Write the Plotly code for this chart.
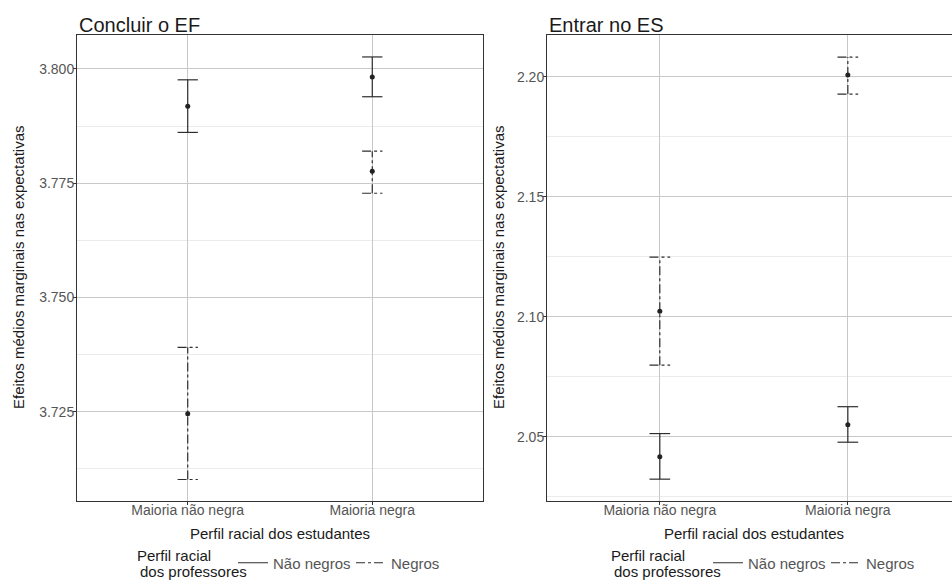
import plotly.graph_objects as go

# ---------------- data ----------------
categories = ["Maioria não negra", "Maioria negra"]
cat_pos = [1, 2]

# Panel 1: Concluir o EF
ef_nao_negros_est = [3.7918, 3.7982]
ef_nao_negros_lo = [3.7861, 3.7939]
ef_nao_negros_hi = [3.7976, 3.8026]
ef_negros_est = [3.7246, 3.7776]
ef_negros_lo = [3.7102, 3.7728]
ef_negros_hi = [3.7391, 3.7820]

# Panel 2: Entrar no ES
es_nao_negros_est = [2.0417, 2.0551]
es_nao_negros_lo = [2.0324, 2.0478]
es_nao_negros_hi = [2.0514, 2.0626]
es_negros_est = [2.1024, 2.2008]
es_negros_lo = [2.0799, 2.1929]
es_negros_hi = [2.1249, 2.2083]

ef_ticks = [3.725, 3.750, 3.775, 3.800]
es_ticks = [2.05, 2.10, 2.15, 2.20]

series_names = ["Não negros", "Negros"]
series_dash = ["solid", "dashdot"]

# ---------------- helpers ----------------
CAP = 0.055
LINE_COL = "#2e2e2e"
FONT = "Liberation Sans, Arial, sans-serif"


def errorbar_path(xs, lo, hi):
    px, py = [], []
    for x, l, h in zip(xs, lo, hi):
        px += [x, x, None, x - CAP, x + CAP, None, x - CAP, x + CAP, None]
        py += [l, h, None, l, l, None, h, h, None]
    return px, py


fig = go.Figure()

panels = [
    ("x", "y", "legend",
     [(ef_nao_negros_est, ef_nao_negros_lo, ef_nao_negros_hi),
      (ef_negros_est, ef_negros_lo, ef_negros_hi)]),
    ("x2", "y2", "legend2",
     [(es_nao_negros_est, es_nao_negros_lo, es_nao_negros_hi),
      (es_negros_est, es_negros_lo, es_negros_hi)]),
]

for xa, ya, leg, series in panels:
    for name, dash, (est, lo, hi) in zip(series_names, series_dash, series):
        px, py = errorbar_path(cat_pos, lo, hi)
        fig.add_trace(go.Scatter(
            x=px, y=py, mode="lines", name=name,
            line=dict(color=LINE_COL, width=1.2, dash=dash),
            xaxis=xa, yaxis=ya, legend=leg, showlegend=True,
            hoverinfo="skip"))
        fig.add_trace(go.Scatter(
            x=cat_pos, y=est, mode="markers", name=name,
            marker=dict(color="#222222", size=5),
            xaxis=xa, yaxis=ya, showlegend=False))

# ---------------- layout ----------------
Y_DOM = [1 - 501 / 580, 1 - 35 / 580]
tickfont = dict(family=FONT, size=14, color="#555555")

common_x = dict(
    tickvals=cat_pos, ticktext=categories, showgrid=True,
    gridcolor="#c8c8c8", gridwidth=1, zeroline=False,
    ticks="outside", ticklen=3, tickcolor="#333333",
    showline=True, linecolor="#333333", linewidth=1,
    tickfont=tickfont, fixedrange=True, ticklabelstandoff=-7,
)
common_y = dict(
    showgrid=True, gridcolor="#c8c8c8", gridwidth=1, zeroline=False,
    ticks="outside", ticklen=3, tickcolor="#333333",
    showline=True, linecolor="#333333", linewidth=1,
    tickfont=tickfont, domain=Y_DOM, fixedrange=True, ticklabelstandoff=-4,
)

legend_common = dict(orientation="h", xanchor="left", yanchor="middle",
                     y=1 - 563 / 580, entrywidth=73, entrywidthmode="pixels",
                     font=dict(size=15, color="#555555"),
                     bgcolor="rgba(0,0,0,0)")

fig.update_layout(
    width=952, height=580, autosize=False,
    margin=dict(l=0, r=0, t=0, b=0, autoexpand=False),
    paper_bgcolor="white", plot_bgcolor="white",
    font=dict(family=FONT, color="#1a1a1a"),
    xaxis=dict(common_x, domain=[77 / 952, 483 / 952], range=[0.4, 2.6],
               mirror=True, anchor="y"),
    yaxis=dict(common_y, range=[3.7055, 3.8074], tickvals=ef_ticks,
               ticktext=[f"{v:.3f}" for v in ef_ticks], mirror=True,
               anchor="x",
               minor=dict(showgrid=True, gridcolor="#ebebeb", gridwidth=1,
                          tick0=3.7125, dtick=0.025)),
    xaxis2=dict(common_x, domain=[547 / 952, 1], range=[0.4, 2.554],
                mirror=True, anchor="y2"),
    yaxis2=dict(common_y, range=[2.0233, 2.2175], tickvals=es_ticks,
                ticktext=[f"{v:.2f}" for v in es_ticks], mirror=False,
                anchor="x2",
                minor=dict(showgrid=True, gridcolor="#ebebeb", gridwidth=1,
                           tick0=2.025, dtick=0.05)),
    legend=dict(legend_common, x=233 / 952),
    legend2=dict(legend_common, x=708 / 952),
)

ann = []
# panel titles
for txt, x0 in [("Concluir o EF", 77), ("Entrar no ES", 547)]:
    ann.append(dict(text=txt, x=x0 / 952, y=1 - 25 / 580, xref="paper",
                    yref="paper", xanchor="left", yanchor="middle",
                    showarrow=False, font=dict(size=20, color="#1a1a1a")))
# x axis titles
for xc in (280, 754):
    ann.append(dict(text="Perfil racial dos estudantes", x=xc / 952,
                    y=1 - 533 / 580, xref="paper", yref="paper",
                    xanchor="center", yanchor="middle", showarrow=False,
                    font=dict(size=15, color="#1a1a1a")))
# y axis titles
for xc in (18, 498):
    ann.append(dict(text="Efeitos médios marginais nas expectativas",
                    x=xc / 952, y=1 - 268 / 580, xref="paper", yref="paper",
                    xanchor="center", yanchor="middle", textangle=-90,
                    showarrow=False, font=dict(size=15, color="#1a1a1a")))
# legend titles (two lines)
for x0 in (135, 609):
    ann.append(dict(text="Perfil racial", x=x0 / 952, y=1 - 555 / 580,
                    xref="paper", yref="paper", xanchor="left",
                    yanchor="middle", showarrow=False,
                    font=dict(size=15, color="#1a1a1a")))
    ann.append(dict(text="dos professores", x=(x0 + 3) / 952, y=1 - 571 / 580,
                    xref="paper", yref="paper", xanchor="left",
                    yanchor="middle", showarrow=False,
                    font=dict(size=15, color="#1a1a1a")))
fig.update_layout(annotations=ann)

fig.write_html(
    "out.html",
    config={"responsive": False, "displayModeBar": False},
    post_script="document.body.style.margin='0px';",
)
